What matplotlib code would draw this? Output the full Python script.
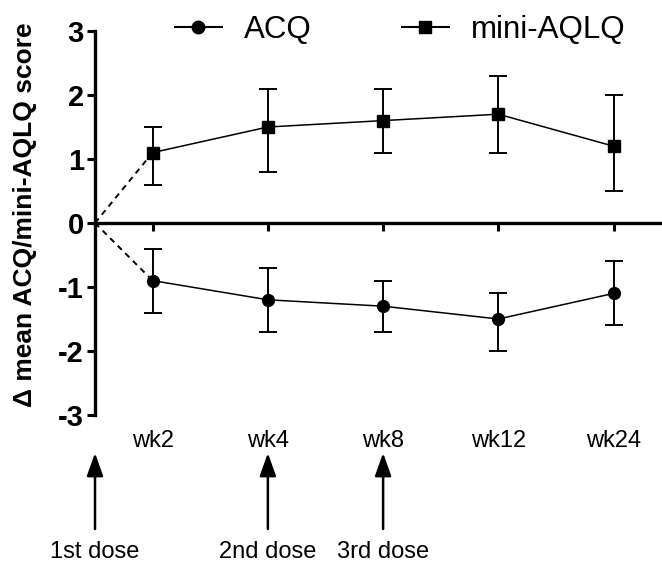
import matplotlib
matplotlib.use("Agg")
import matplotlib.pyplot as plt
from matplotlib.lines import Line2D
from matplotlib.transforms import blended_transform_factory

# ---- data ----
timepoints = ["wk2", "wk4", "wk8", "wk12", "wk24"]
acq_mean = [-0.9, -1.2, -1.3, -1.5, -1.1]
acq_low = [-1.4, -1.7, -1.7, -2.0, -1.6]
acq_high = [-0.4, -0.7, -0.9, -1.1, -0.6]
aqlq_mean = [1.1, 1.5, 1.6, 1.7, 1.2]
aqlq_low = [0.6, 0.8, 1.1, 1.1, 0.5]
aqlq_high = [1.5, 2.1, 2.1, 2.3, 2.0]
dose_labels = ["1st dose", "2nd dose", "3rd dose"]
dose_at = ["baseline", "wk4", "wk8"]
yticks = [-3, -2, -1, 0, 1, 2, 3]

plt.rcParams['font.family'] = ['Liberation Sans', 'DejaVu Sans']

fig = plt.figure(figsize=(6.62, 5.63), dpi=100)
ax = fig.add_axes([95 / 662, 1 - 415 / 563, 1 - 95 / 662, (415 - 31) / 563])

x = list(range(1, len(timepoints) + 1))
x0 = 0.5  # baseline (origin)

def pos(name):
    return x0 if name == "baseline" else timepoints.index(name) + 1

err_kw = dict(color='black', lw=1.1, elinewidth=1.4, capsize=6.5, capthick=1.4,
              markersize=8.5, zorder=3)

# dashed lines from origin to first points
ax.plot([x0, x[0]], [0, aqlq_mean[0]], ls=(0, (3, 2.5)), color='black', lw=1.4)
ax.plot([x0, x[0]], [0, acq_mean[0]], ls=(0, (3, 2.5)), color='black', lw=1.4)

ax.errorbar(x, aqlq_mean,
            yerr=[[m - l for m, l in zip(aqlq_mean, aqlq_low)],
                  [h - m for m, h in zip(aqlq_mean, aqlq_high)]],
            marker='s', **err_kw)
ax.errorbar(x, acq_mean,
            yerr=[[m - l for m, l in zip(acq_mean, acq_low)],
                  [h - m for m, h in zip(acq_mean, acq_high)]],
            marker='o', **err_kw)

ax.set_xlim(x0, 5.42)
ax.set_ylim(-3, 3)
ax.set_yticks(yticks)
ax.set_yticklabels([str(v) for v in yticks], fontsize=21, fontweight='bold')
ax.tick_params(axis='y', direction='out', length=6, width=2.2, pad=2)
ax.set_xticks(x)
ax.set_xticklabels([])
ax.tick_params(axis='x', direction='out', length=5.5, width=2.2)

for s in ['top', 'right']:
    ax.spines[s].set_visible(False)
ax.spines['left'].set_linewidth(2.4)
ax.spines['bottom'].set_linewidth(2.4)
ax.spines['bottom'].set_position(('data', 0))

# week labels below the plot
trans = blended_transform_factory(ax.transData, ax.transAxes)
for xi, lab in zip(x, timepoints):
    ax.text(xi, -0.068, lab, transform=trans, ha='center', va='center', fontsize=17)

# dose arrows
ftrans = blended_transform_factory(ax.transData, fig.transFigure)
for lab, at in zip(dose_labels, dose_at):
    xp = pos(at)
    ax.annotate('', xy=(xp, 1 - 453 / 563), xytext=(xp, 1 - 529 / 563),
                xycoords=ftrans, textcoords=ftrans, annotation_clip=False,
                arrowprops=dict(arrowstyle='-|>,head_length=1.4,head_width=0.5',
                                color='black', lw=1.8, shrinkA=0, shrinkB=0))
    ax.text(xp, 1 - 552 / 563, lab, transform=ftrans, ha='center', va='center',
            fontsize=17, clip_on=False)

fig.text(25 / 662, 1 - 215 / 563, "Δ mean ACQ/mini-AQLQ score", rotation=90,
         ha='center', va='center', fontsize=19, fontweight='bold')

handles = [Line2D([], [], color='black', lw=1.5, marker='o', markersize=9),
           Line2D([], [], color='black', lw=1.5, marker='s', markersize=8.5)]
fig.legend(handles, ["ACQ", "mini-AQLQ"], ncol=2, frameon=False, fontsize=22.5,
           loc='center', bbox_to_anchor=(400 / 662, 1 - 30 / 563),
           handlelength=1.5, handletextpad=0.7, columnspacing=2.9,
           borderpad=0, borderaxespad=0)

fig.savefig("out.png", dpi=100)
